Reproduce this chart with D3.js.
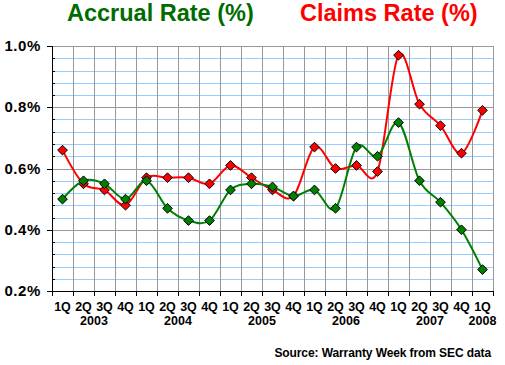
<!DOCTYPE html>
<html>
<head>
<meta charset="utf-8">
<script src="https://cdn.jsdelivr.net/npm/d3@7"></script>
<style>
  body { margin: 0; background: #fff; }
  text { font-family: "Liberation Sans", Arial, sans-serif; font-weight: bold; }
</style>
</head>
<body>
<script>
const width = 505;
const height = 365;

// data
const quarters = ["1Q","2Q","3Q","4Q","1Q","2Q","3Q","4Q","1Q","2Q","3Q","4Q",
  "1Q","2Q","3Q","4Q","1Q","2Q","3Q","4Q","1Q"];
const years = ["2003", "2004", "2005", "2006", "2007", "2008"];
const accrualRate = [0.50, 0.56, 0.55, 0.50, 0.56, 0.47, 0.43, 0.43, 0.53, 0.55, 0.54,
  0.51, 0.53, 0.47, 0.67, 0.64, 0.75, 0.56, 0.49, 0.40, 0.27];
const claimsRate = [0.66, 0.55, 0.53, 0.48, 0.57, 0.57, 0.57, 0.55, 0.61, 0.57, 0.53,
  0.51, 0.67, 0.60, 0.61, 0.59, 0.97, 0.81, 0.74, 0.65, 0.79];
const yTicks = [0.2, 0.4, 0.6, 0.8, 1.0];

const pLeft = 52, pRight = 493, pTop = 46, pBottom = 291;

const svg = d3
  .select("body")
  .append("svg")
  .attr("width", width)
  .attr("height", height);

svg.append("rect").attr("width", width).attr("height", height).attr("fill", "#fff");

const x = d3.scaleBand().domain(d3.range(quarters.length)).range([pLeft, pRight]);
const y = d3.scaleLinear().domain([0.2, 1.0]).range([pBottom, pTop]);

// light blue minor grid
const minor = d3.range(0.24, 1.0, 0.04).filter((v) => Math.abs(v * 5 - Math.round(v * 5)) > 0.01);
svg
  .append("g")
  .selectAll("line")
  .data(minor)
  .join("line")
  .attr("x1", pLeft)
  .attr("x2", pRight)
  .attr("y1", (d) => Math.round(y(d)) + 0.5)
  .attr("y2", (d) => Math.round(y(d)) + 0.5)
  .attr("stroke", "#99ccff");

// gray major grid
svg
  .append("g")
  .selectAll("line")
  .data(yTicks.slice(1))
  .join("line")
  .attr("x1", pLeft)
  .attr("x2", pRight)
  .attr("y1", (d) => Math.round(y(d)) + 0.5)
  .attr("y2", (d) => Math.round(y(d)) + 0.5)
  .attr("stroke", "#999");

const bounds = d3.range(1, quarters.length + 1).map((i) => pLeft + i * x.bandwidth());
svg
  .append("g")
  .selectAll("line")
  .data(bounds)
  .join("line")
  .attr("x1", (d) => Math.round(d) + 0.5)
  .attr("x2", (d) => Math.round(d) + 0.5)
  .attr("y1", pTop)
  .attr("y2", pBottom)
  .attr("stroke", "#999");

// axes
const axis = svg.append("g").attr("stroke", "#000");
axis.append("line").attr("x1", pLeft + 0.5).attr("x2", pLeft + 0.5).attr("y1", pTop).attr("y2", pBottom + 5);
axis.append("line").attr("x1", pLeft).attr("x2", pRight + 1).attr("y1", pBottom + 0.5).attr("y2", pBottom + 0.5);
axis
  .selectAll(".maj")
  .data(yTicks)
  .join("line")
  .attr("x1", pLeft - 5)
  .attr("x2", pLeft)
  .attr("y1", (d) => Math.round(y(d)) + 0.5)
  .attr("y2", (d) => Math.round(y(d)) + 0.5);
axis
  .selectAll(".min")
  .data(minor)
  .join("line")
  .attr("x1", pLeft)
  .attr("x2", pLeft + 3)
  .attr("y1", (d) => Math.round(y(d)) + 0.5)
  .attr("y2", (d) => Math.round(y(d)) + 0.5);
axis
  .selectAll(".xt")
  .data([pLeft].concat(bounds))
  .join("line")
  .attr("x1", (d) => Math.round(d) + 0.5)
  .attr("x2", (d) => Math.round(d) + 0.5)
  .attr("y1", pBottom)
  .attr("y2", pBottom + 5);

// labels
svg
  .append("g")
  .selectAll("text")
  .data(yTicks)
  .join("text")
  .attr("x", 41)
  .attr("y", (d) => y(d) + 5)
  .attr("text-anchor", "end")
  .attr("font-size", 15)
  .attr("letter-spacing", 0.6)
  .text((d) => d.toFixed(1) + "%");

svg
  .append("g")
  .selectAll("text")
  .data(quarters)
  .join("text")
  .attr("x", (d, i) => x(i) + x.bandwidth() / 2)
  .attr("y", 311)
  .attr("text-anchor", "middle")
  .attr("font-size", 12.5)
  .text((d) => d);

svg
  .append("g")
  .selectAll("text")
  .data(years)
  .join("text")
  .attr("x", (d, i) => (i < 5 ? x(i * 4 + 2) : x(20) + x.bandwidth() / 2))
  .attr("y", 325)
  .attr("text-anchor", "middle")
  .attr("font-size", 12.5)
  .text((d) => d);

// series
const series = [
  { values: claimsRate, color: "#ff0000" },
  { values: accrualRate, color: "#008000" },
];
const line = d3
  .line()
  .x((d, i) => x(i) + x.bandwidth() / 2)
  .y((d) => y(d))
  .curve(d3.curveCardinal.tension(0));

const diamond = d3.symbol().type(d3.symbolDiamond2).size(60);

series.forEach((s) => {
  svg
    .append("path")
    .attr("d", line(s.values))
    .attr("fill", "none")
    .attr("stroke", s.color)
    .attr("stroke-width", 2);
  svg
    .append("g")
    .selectAll("path")
    .data(s.values)
    .join("path")
    .attr("d", diamond)
    .attr("transform", (d, i) => `translate(${x(i) + x.bandwidth() / 2},${y(d)})`)
    .attr("fill", s.color)
    .attr("stroke", "#000")
    .attr("stroke-width", 1);
});

// titles
svg.append("text").attr("x", 67).attr("y", 21).attr("font-size", 23.5).attr("fill", "#006c00").text("Accrual Rate (%)");
svg.append("text").attr("x", 300).attr("y", 21).attr("font-size", 23.5).attr("fill", "#ff0000").text("Claims Rate (%)");

svg
  .append("text")
  .attr("x", 491)
  .attr("y", 357)
  .attr("text-anchor", "end")
  .attr("font-size", 12)
  .attr("letter-spacing", -0.1)
  .text("Source: Warranty Week from SEC data");
</script>
</body>
</html>
